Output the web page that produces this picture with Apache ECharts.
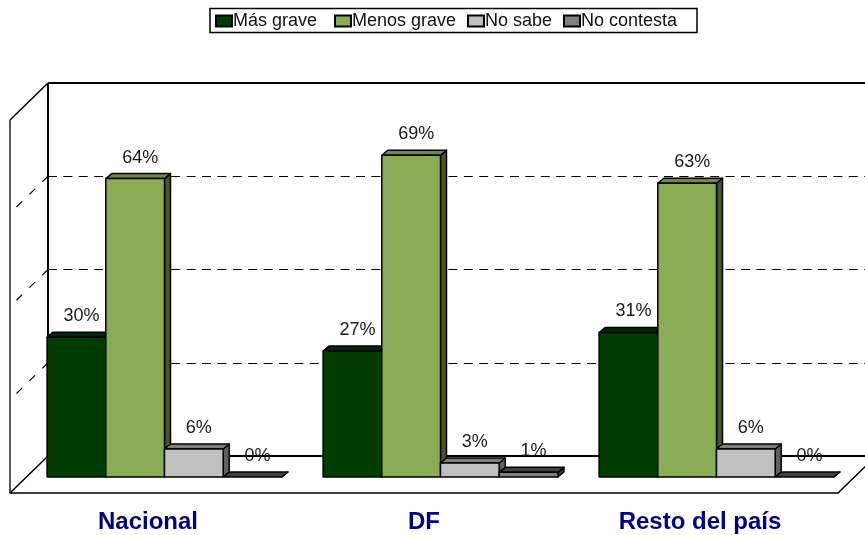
<!DOCTYPE html>
<html><head><meta charset="utf-8">
<style>html,body{margin:0;padding:0;background:#fff}#c{width:865px;height:535px}</style>
<script src="https://cdn.jsdelivr.net/npm/echarts@6/dist/echarts.min.js"></script>
</head><body><div id="c"></div>
<script>
var categories = ['Nacional', 'DF', 'Resto del país'];
var masGrave = [30, 27, 31];
var menosGrave = [64, 69, 63];
var noSabe = [6, 3, 6];
var noContesta = [0, 1, 0];
var seriesNames = ['Más grave', 'Menos grave', 'No sabe', 'No contesta'];
var valueTicks = [0, 20, 40, 60, 80];
var font = '"Liberation Sans", Arial, sans-serif';

var barPalette = [
  {front: '#003c00', top: '#002a00', side: '#002000'},
  {front: '#8aac55', top: '#6e8a44', side: '#45562a'},
  {front: '#c0c0c0', top: '#808080', side: '#606060'},
  {front: '#808080', top: '#404040', side: '#404040'}
];
var barW = 58.7, dx = 6, dy = 5;
var wallDx = 38, wallDy = 37;

function barRenderer(idx) {
  return function (params, api) {
    var c = api.coord([api.value(0), api.value(1)]);
    var base = api.coord([api.value(0), 0]);
    var x0 = c[0] - 2 * barW + idx * barW, x1 = x0 + barW;
    var yt = c[1], yb = base[1];
    var col = barPalette[idx];
    var stroke = {stroke: '#000', lineWidth: 1.5, lineJoin: 'round'};
    var kids = [];
    kids.push({type: 'polygon', shape: {points: [[x1, yt], [x1 + dx, yt - dy], [x1 + dx, yb - dy], [x1, yb]]},
      style: Object.assign({fill: col.side}, stroke)});
    kids.push({type: 'polygon', shape: {points: [[x0, yt], [x0 + dx, yt - dy], [x1 + dx, yt - dy], [x1, yt]]},
      style: Object.assign({fill: col.top}, stroke)});
    if (yb - yt > 0.5) kids.push({type: 'rect', shape: {x: x0, y: yt, width: barW, height: yb - yt},
      style: Object.assign({fill: col.front}, stroke)});
    kids.push({type: 'text', z2: 50, style: {text: api.value(1) + '%', x: (x0 + x1) / 2 + 5, y: yt - 21,
      align: 'center', verticalAlign: 'middle', fill: '#1a1a1a', font: '18px ' + font}});
    return {type: 'group', children: kids};
  };
}
function barSeries(name, vals, idx) {
  return {name: name, type: 'custom', xAxisIndex: 0, yAxisIndex: 0, z: 5 + idx, clip: false,
    itemStyle: {color: barPalette[idx].front, borderColor: '#000', borderWidth: 1},
    data: vals.map(function (v, i) { return [i, v]; }),
    encode: {x: 0, y: 1}, renderItem: barRenderer(idx)};
}
var wallSeries = {
  type: 'custom', xAxisIndex: 1, yAxisIndex: 1, z: 1, clip: false, silent: true,
  data: valueTicks.map(function (t) { return [0, t]; }),
  encode: {x: 0, y: 1},
  renderItem: function (params, api) {
    var cs = params.coordSys, t = api.value(1);
    var y = api.coord([0, t])[1], x = cs.x;
    var top = valueTicks[valueTicks.length - 1];
    var solid = t === 0 || t === top;
    var kids = [{type: 'line', shape: {x1: x, y1: y, x2: x - wallDx, y2: y + wallDy},
      style: {stroke: '#000', lineWidth: solid ? 1.5 : 1.2, lineDash: solid ? null : [8, 10]}}];
    if (t === top) {
      kids.push({type: 'line', shape: {x1: x, y1: y, x2: x + cs.width, y2: y}, style: {stroke: '#000', lineWidth: 2}});
      kids.push({type: 'line', shape: {x1: x, y1: y, x2: x, y2: y + cs.height}, style: {stroke: '#000', lineWidth: 2}});
      kids.push({type: 'line', shape: {x1: x - wallDx, y1: y + wallDy, x2: x - wallDx, y2: y + wallDy + cs.height}, style: {stroke: '#222', lineWidth: 1.5}});
    }
    if (t === 0) {
      kids.push({type: 'line', shape: {x1: x, y1: y, x2: x + cs.width, y2: y}, style: {stroke: '#000', lineWidth: 2}});
    }
    return {type: 'group', children: kids};
  }
};
var floorEdge = {
  type: 'custom', xAxisIndex: 2, yAxisIndex: 2, z: 1, clip: false, silent: true,
  data: [[0, 0]], encode: {x: 0, y: 1},
  renderItem: function (params, api) {
    var cs = params.coordSys, y = api.coord([0, 0])[1], x = cs.x + cs.width;
    return {type: 'line', shape: {x1: x, y1: y, x2: x + wallDx, y2: y - wallDy}, style: {stroke: '#000', lineWidth: 1.5}};
  }
};
var hiddenY = {type: 'value', min: 0, max: 80, interval: 20, show: false};
function hiddenX(grid) { return {type: 'category', gridIndex: grid, data: categories, show: false}; }

var legendLeft = [215, 334, 467, 563];
var chart = echarts.init(document.getElementById('c'), null, {renderer: 'canvas'});
chart.setOption({
  backgroundColor: '#fff',
  animation: false,
  grid: [
    {left: 26.5, width: 828, top: 104, height: 373},
    {left: 48, width: 817, top: 83, height: 373},
    {left: 10, width: 828, top: 120, height: 373}
  ],
  xAxis: [
    hiddenX(0),
    {type: 'category', gridIndex: 1, data: categories, axisTick: {show: false}, axisLabel: {show: false},
      axisLine: {lineStyle: {color: '#000', width: 1.5}}},
    {type: 'category', gridIndex: 2, data: categories, axisTick: {show: false},
      axisLine: {lineStyle: {color: '#000', width: 1.5}},
      axisLabel: {margin: 17, color: '#000080', fontFamily: font, fontWeight: 'bold', fontSize: 24}}
  ],
  yAxis: [
    Object.assign({gridIndex: 0}, hiddenY),
    {type: 'value', gridIndex: 1, min: 0, max: 80, interval: 20, axisLine: {show: false}, axisTick: {show: false},
      axisLabel: {show: false}, splitLine: {show: true, lineStyle: {color: '#000', width: 1, type: [9, 6.4]}}},
    Object.assign({gridIndex: 2}, hiddenY)
  ],
  legend: seriesNames.map(function (n, i) {
    return {data: [n], left: legendLeft[i], top: 12, padding: 0, selectedMode: false, icon: 'rect',
      itemWidth: 16, itemHeight: 11, textStyle: {fontFamily: font, fontSize: 18, color: '#111', padding: [0, 0, 0, -4]}};
  }),
  graphic: [{type: 'rect', silent: true, z: -1, shape: {x: 210, y: 8.5, width: 487, height: 24},
    style: {fill: '#fff', stroke: '#000', lineWidth: 1.5}}],
  series: [wallSeries, floorEdge,
    barSeries(seriesNames[0], masGrave, 0),
    barSeries(seriesNames[1], menosGrave, 1),
    barSeries(seriesNames[2], noSabe, 2),
    barSeries(seriesNames[3], noContesta, 3)]
});
</script></body></html>
